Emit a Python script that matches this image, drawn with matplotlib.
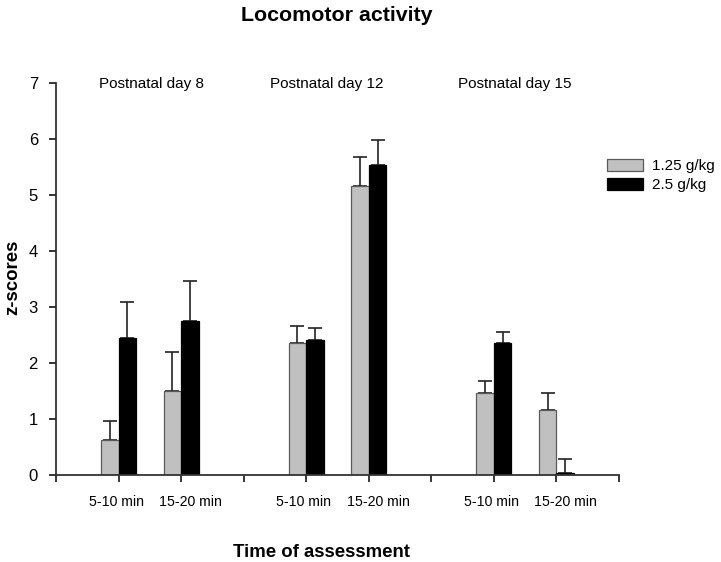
import matplotlib
matplotlib.use("Agg")
import matplotlib.pyplot as plt
import numpy as np

plt.rcParams['font.family'] = ['Liberation Sans', 'DejaVu Sans']

# ---- data ----
groups = ["Postnatal day 8", "Postnatal day 12", "Postnatal day 15"]
time_labels = ["5-10 min", "15-20 min"]
series_names = ["1.25 g/kg", "2.5 g/kg"]
low_dose = [0.62, 1.49, 2.35, 5.16, 1.46, 1.16]
low_err = [0.34, 0.70, 0.30, 0.52, 0.22, 0.31]
high_dose = [2.45, 2.74, 2.41, 5.54, 2.36, 0.03]
high_err = [0.63, 0.73, 0.21, 0.44, 0.20, 0.25]

# ---- layout ----
positions = []
for g in range(len(groups)):
    positions += [3 * g + 1, 3 * g + 2]
x = np.array(positions, dtype=float)
group_centers = np.array([3 * g + 1.5 for g in range(len(groups))])
group_label_offsets = [0.03, -0.17, -0.16]
time_label_offsets = [-0.04, 0.15]

fig = plt.figure(figsize=(7.21, 5.62), dpi=100)
ax = fig.add_axes([56 / 721, 87 / 562, 563 / 721, 392.3 / 562])

w = 0.28
ax.bar(x, low_dose, width=-w, align='edge', color='#c0c0c0', edgecolor='#5a5a5a',
       linewidth=0.9, label=series_names[0], zorder=2)
ax.bar(x, high_dose, width=w, align='edge', color='black', edgecolor='black',
       linewidth=0.9, label=series_names[1], zorder=2)
ax.errorbar(x - w / 2, low_dose, yerr=[np.zeros(len(low_err)), low_err], fmt='none',
            ecolor='#222222', elinewidth=1.2, capsize=4.7, capthick=1.2, zorder=1)
ax.errorbar(x + w / 2, high_dose, yerr=[np.zeros(len(high_err)), high_err], fmt='none',
            ecolor='#222222', elinewidth=1.2, capsize=4.7, capthick=1.2, zorder=1)

ax.set_xlim(0, 9)
ax.set_ylim(0, 7)
ax.set_yticks(range(0, 8))
ax.set_xticks(range(0, 10))
ax.set_xticklabels([""] * 10)
for i, p in enumerate(positions):
    ax.text(p + time_label_offsets[i % 2], -0.553, time_labels[i % 2], ha='center',
            va='baseline', fontsize=10.2)
ax.tick_params(axis='y', labelsize=12, length=5, width=1.1, direction='out', pad=8)
ax.tick_params(axis='x', length=5, width=1.1, direction='out')
for s in ['top', 'right']:
    ax.spines[s].set_visible(False)
for s in ['left', 'bottom']:
    ax.spines[s].set_linewidth(1.3)
    ax.spines[s].set_color('#333333')

for gc, off, g in zip(group_centers, group_label_offsets, groups):
    ax.text(gc + off, 6.906, g, ha='center', va='baseline', fontsize=11)

fig.text(13 / 721, 1 - 277.5 / 562, "z-scores", rotation=90, ha='center', va='center',
         fontsize=13.4, fontweight='bold')
fig.text(321.7 / 721, 1 - 557 / 562, "Time of assessment", ha='center', va='baseline',
         fontsize=13.4, fontweight='bold')
fig.text(337 / 721, 1 - 21 / 562, "Locomotor activity", ha='center', va='baseline',
         fontsize=15.4, fontweight='bold')

ax.legend(loc='upper left', bbox_to_anchor=(607 / 721, 1 - 159 / 562),
          bbox_transform=fig.transFigure, frameon=False, fontsize=11,
          handlelength=2.36, handleheight=0.8, handletextpad=0.6,
          labelspacing=0.32, borderaxespad=0, borderpad=0)

fig.savefig("out.png", dpi=100)
